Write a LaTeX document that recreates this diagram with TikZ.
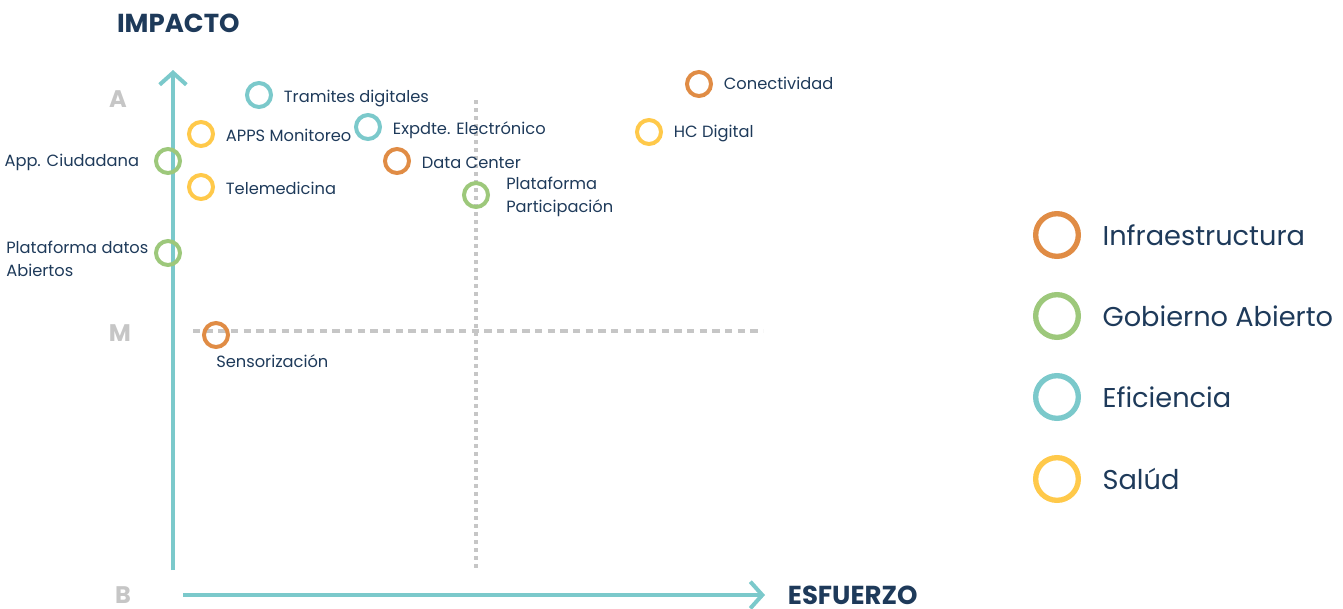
\documentclass[tikz,border=0pt]{standalone}
\usepackage{fontspec}
\setmainfont{Poppins}
\usepackage{xcolor}
\usetikzlibrary{arrows.meta, positioning}
\definecolor{infracol}{HTML}{E08C45}
\definecolor{gobcol}{HTML}{9DC87B}
\definecolor{eficol}{HTML}{7BC9CB}
\definecolor{saludcol}{HTML}{FFC94A}
\definecolor{textcol}{HTML}{1E3A5A}
\definecolor{greycol}{HTML}{C6C6C6}
\tikzstyle{punto}    = [circle, draw, line width=3pt, minimum size=18pt, inner sep=0pt]
\tikzstyle{infra}    = [punto, draw=infracol]
\tikzstyle{gobierno} = [punto, draw=gobcol]
\tikzstyle{eficien}  = [punto, draw=eficol]
\tikzstyle{salud}    = [punto, draw=saludcol]
\tikzstyle{etiqueta} = [text=textcol, inner sep=0pt, align=left, font=\fontsize{12.2}{17}\selectfont]
\tikzstyle{linea}    = [etiqueta, text height=11pt, text depth=0.5pt]
\tikzstyle{leyenda}  = [circle, draw, line width=4pt, minimum size=32pt, inner sep=0pt]
\tikzstyle{leytexto} = [text=textcol, inner sep=0pt, font=\fontsize{20.4}{22}\selectfont]
\tikzstyle{eje}      = [draw=eficol, line width=3pt, -{Straight Barb[length=9pt, width=20pt]}]
\tikzstyle{nivel}    = [text=greycol, inner sep=0pt, font=\fontsize{18}{20}\selectfont\bfseries]
\tikzstyle{titulo}   = [text=textcol, inner sep=0pt, font=\fontsize{19.5}{22}\selectfont\bfseries]
\tikzstyle{guia}     = [draw=greycol, line width=2.4pt]

\begin{document}
\begin{tikzpicture}[x=0.75pt, y=-0.75pt]
    \useasboundingbox (0,0) rectangle (1343,608);

    % ejes
    \coordinate (ybase) at (173,570);
    \coordinate (ytip)  at (173,70);
    \coordinate (xbase) at (183,595);
    \coordinate (xtip)  at (765,595);
    \draw [eje] (ybase) -- (ytip);
    \draw [eje] (xbase) -- (xtip);
    \node (impacto)  [titulo, above=28pt of ytip, xshift=4pt] {IMPACTO};
    \node (esfuerzo) [titulo, right=17pt of xtip] {ESFUERZO};
    \node (nivelA) [nivel] at (118,99)  {A};
    \node (nivelM) [nivel] at (120,333) {M};
    \node (nivelB) [nivel] at (123,595) {B};

    % cuadrantes
    \coordinate (vtop) at (476,100);
    \coordinate (vbot) at (476,568);
    \coordinate (hleft)  at (193,331);
    \coordinate (hright) at (763,331);
    \draw [guia, dash pattern=on 3pt off 3pt] (vtop) -- (vbot);
    \draw [guia, dash pattern=on 5.5pt off 4pt] (hleft) -- (hright);

    % proyectos
    \node (tramites)  [eficien]  at (259,95)  {};
    \node (apps)      [salud]    at (201,134) {};
    \node (expdte)    [eficien]  at (368,127) {};
    \node (ciudadana) [gobierno] at (168,161) {};
    \node (datacenter)[infra]    at (397,161) {};
    \node (telemed)   [salud]    at (201,187) {};
    \node (particip)  [gobierno] at (476,195) {};
    \node (conectiv)  [infra]    at (699,84)  {};
    \node (hcdigital) [salud]    at (649,132) {};
    \node (datos)     [gobierno] at (168,253) {};
    \node (sensor)    [infra]    at (216,335) {};

    \node [linea, right=8pt of tramites]   {Tramites digitales};
    \node [linea, right=8pt of apps]       {APPS Monitoreo};
    \node [linea, right=8pt of expdte]     {Expdte. Electrónico};
    \node [linea, left=11pt of ciudadana, yshift=1.5pt]  {App. Ciudadana};
    \node [linea, right=8pt of datacenter] {Data Center};
    \node [linea, right=8pt of telemed]    {Telemedicina};
    \node [etiqueta, right=12pt of particip, yshift=-1.5pt] {Plataforma\\Participación};
    \node [linea, right=8pt of conectiv, yshift=1.5pt]   {Conectividad};
    \node [linea, right=8pt of hcdigital, yshift=1.5pt]  {HC Digital};
    \node [etiqueta, left=4pt of datos, yshift=-4.5pt] {Plataforma datos\\Abiertos};
    \node [etiqueta, anchor=base west] at ([yshift=-24pt]sensor.center) {Sensorización};

    % leyenda
    \node (leyinfra) [leyenda, draw=infracol] at (1057,235) {};
    \node (leygob)   [leyenda, draw=gobcol]   at (1057,316) {};
    \node (leyefi)   [leyenda, draw=eficol]   at (1057,397) {};
    \node (leysalud) [leyenda, draw=saludcol] at (1057,479) {};
    \node [leytexto, right=16pt of leyinfra] {Infraestructura};
    \node [leytexto, right=16pt of leygob]   {Gobierno Abierto};
    \node [leytexto, right=16pt of leyefi]   {Eficiencia};
    \node [leytexto, right=16pt of leysalud] {Salúd};
\end{tikzpicture}
\end{document}
